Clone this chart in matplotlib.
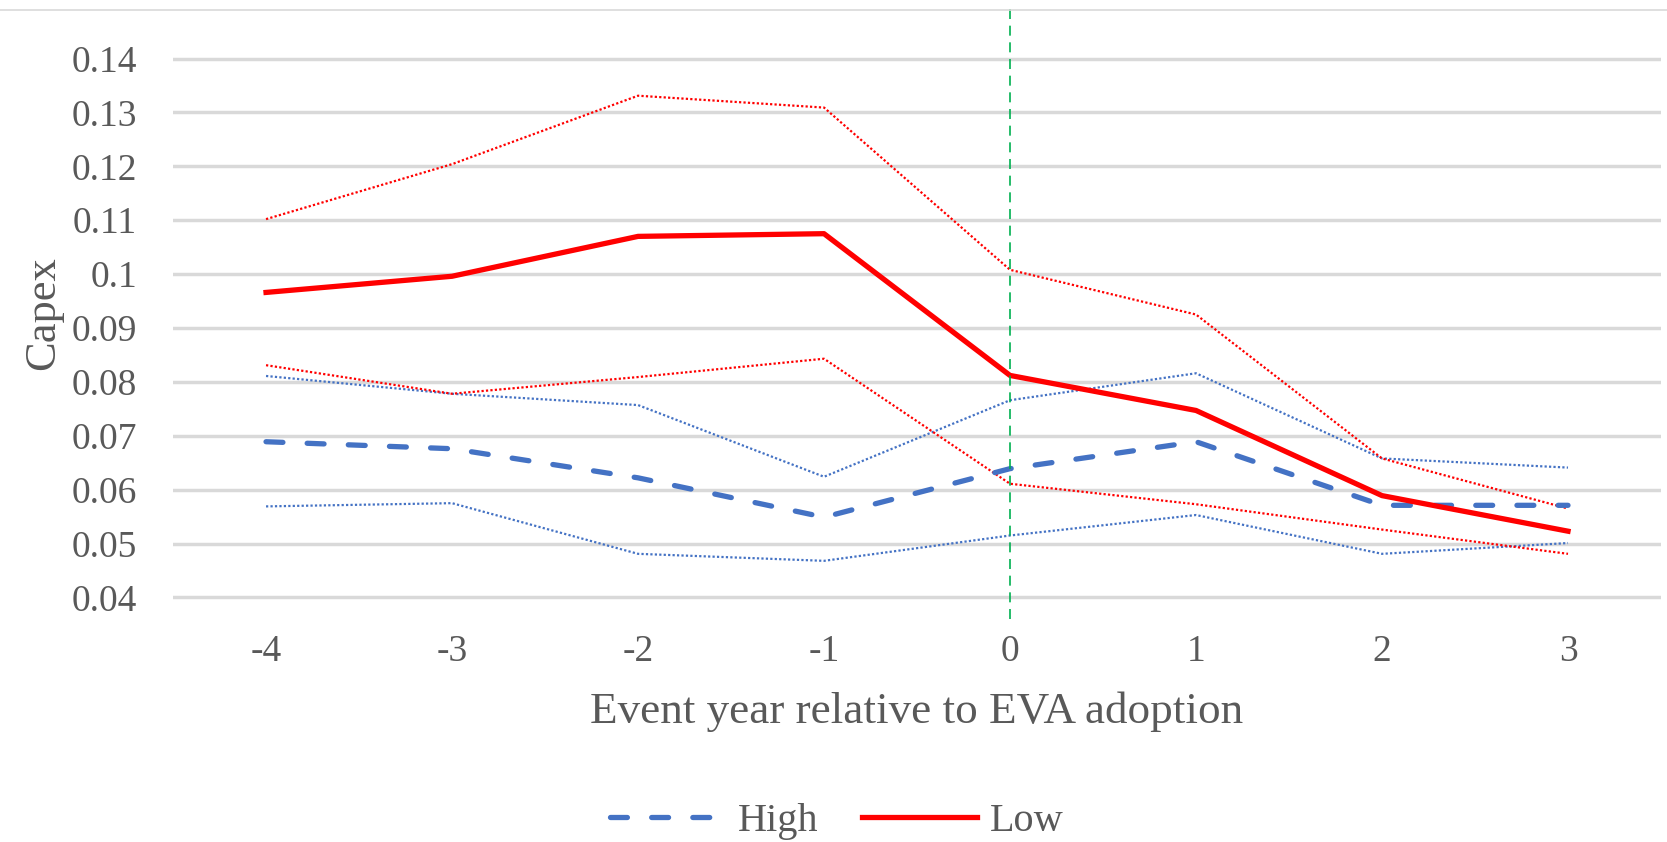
import matplotlib
matplotlib.use('Agg')
import matplotlib.pyplot as plt
from matplotlib.lines import Line2D

# data
years = [-4, -3, -2, -1, 0, 1, 2, 3]
high = [0.0689, 0.0676, 0.0622, 0.0549, 0.0639, 0.0689, 0.0571, 0.0571]
high_upper = [0.0811, 0.0778, 0.0757, 0.0624, 0.0766, 0.0816, 0.0658, 0.0641]
high_lower = [0.0569, 0.0575, 0.0481, 0.0468, 0.0515, 0.0553, 0.0481, 0.0501]
low = [0.0966, 0.0996, 0.1070, 0.1075, 0.0812, 0.0747, 0.0589, 0.0523]
low_upper = [0.1102, 0.1204, 0.1331, 0.1309, 0.1008, 0.0925, 0.0658, 0.0565]
low_lower = [0.0831, 0.0778, 0.0809, 0.0843, 0.0611, 0.0573, 0.0526, 0.0481]
yticks = [0.04, 0.05, 0.06, 0.07, 0.08, 0.09, 0.1, 0.11, 0.12, 0.13, 0.14]
ytick_labels = ['0.04', '0.05', '0.06', '0.07', '0.08', '0.09', '0.1',
                '0.11', '0.12', '0.13', '0.14']

plt.rcParams['font.family'] = ['Liberation Serif', 'DejaVu Serif']
txt = '#595959'
blue = '#4472C4'
red = '#FF0000'

fig = plt.figure(figsize=(16.67, 8.42), dpi=100)
ax = fig.add_axes([0.1038, 0.2648, 0.8926, 0.7265])

dot = {'linestyle': (0, (1, 1)), 'linewidth': 1.6}
ax.plot(years, high_upper, color=blue, **dot)
ax.plot(years, high_lower, color=blue, **dot)
ax.plot(years, low_upper, color=red, **dot)
ax.plot(years, low_lower, color=red, **dot)
ax.plot(years, high, color=blue, linewidth=3.8, linestyle=(0, (3.2, 4.6)),
        dash_capstyle='round', label='High')
ax.plot(years, low, color=red, linewidth=3.8, label='Low')

ax.axvline(0, color='#00B050', linewidth=1.2, linestyle=(0, (6, 4)))

ax.set_xlim(-4.5, 3.5)
ax.set_ylim(0.036, 0.1495)
ax.set_xticks(years)
ax.set_xticklabels([str(y) for y in years])
ax.set_yticks(yticks)
ax.set_yticklabels(ytick_labels)
ax.grid(axis='y', color='#d9d9d9', linewidth=2.5)
ax.set_axisbelow(True)
for s in ax.spines.values():
    s.set_visible(False)
ax.tick_params(length=0, labelsize=27, colors=txt)
ax.tick_params(axis='y', pad=26)
ax.tick_params(axis='x', pad=11)

ax.set_xlabel('Event year relative to EVA adoption', fontsize=32.5, color=txt,
              labelpad=16)
ax.set_ylabel('Capex', fontsize=32, color=txt, labelpad=6)

fig.legend(loc='center', bbox_to_anchor=(0.502, 0.024), ncol=2, frameon=False,
           fontsize=29, handlelength=2.85, handletextpad=0.32, columnspacing=1.1,
           labelcolor=txt)

fig.add_artist(Line2D([0, 1], [1 - 10 / 842, 1 - 10 / 842], color='#d9d9d9',
                      linewidth=1.2, transform=fig.transFigure))

fig.savefig('out.png', dpi=100)
